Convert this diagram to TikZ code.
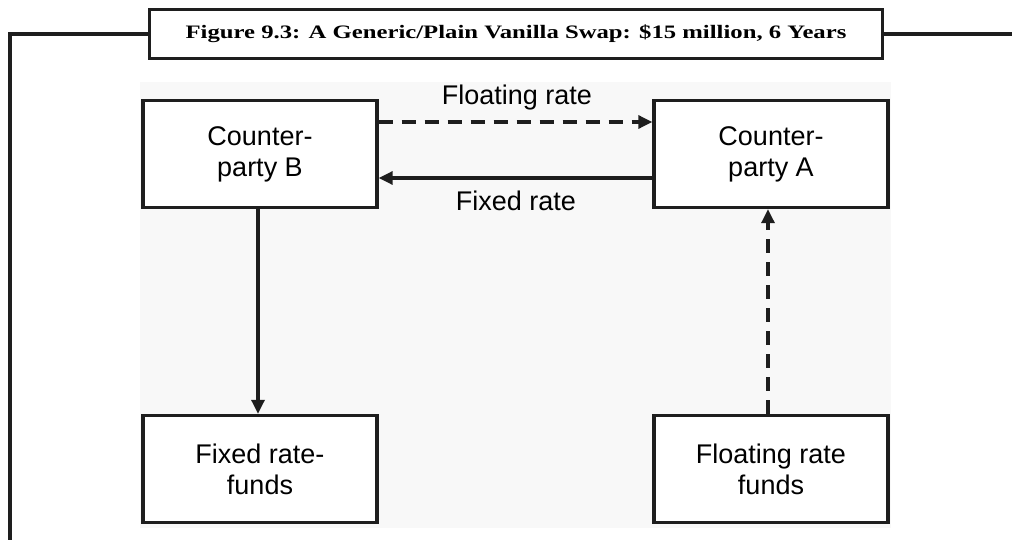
\documentclass[tikz,border=0pt]{standalone}
\usepackage{fontspec}
\setmainfont{Liberation Sans}
\newfontfamily\titlefont{Liberation Serif}
\usetikzlibrary{arrows.meta}
\definecolor{ink}{HTML}{1E1E1E}
\definecolor{panel}{HTML}{F8F8F8}
\tikzset{
  frame/.style={draw=ink, line width=3.2pt},
  box/.style={draw=ink, line width=3.4pt, fill=white, rectangle, inner sep=0pt,
    minimum width=234pt, minimum height=107pt, align=center,
    font=\fontsize{27}{31}\selectfont},
  flow/.style={draw=ink, line width=3.2pt, -{Triangle[length=14pt,width=13pt]}},
  dashflow/.style={flow, dash pattern=on 14pt off 9pt},
  lbl/.style={font=\fontsize{27}{31}\selectfont, inner sep=0pt, anchor=base},
  titlebox/.style={draw=ink, line width=3.2pt, fill=white, inner sep=0pt,
    minimum width=733pt, minimum height=49pt,
    font=\titlefont\bfseries\fontsize{19}{22}\selectfont}
}
\begin{document}
\begin{tikzpicture}[x=1pt,y=-1pt]
\useasboundingbox (0,0) rectangle (1012,540);
\fill[panel] (140,82) rectangle (891,528);
% title and frame
\node[titlebox] (title) at (516,34) {\scalebox{1.3}[1]{Figure 9.3: A Generic/Plain Vanilla Swap: \$15 million, 6 Years}};
\coordinate (tl) at (10,34);
\coordinate (bl) at (10,545);
\coordinate (tr) at (1015,34);
\draw[frame] (title.west) -- (tl) -- (bl);
\draw[frame] (title.east) -- (tr);
% boxes
\node[box] (cpB) at (260,154) {Counter-\\party B};
\node[box] (cpA) at (771,154) {Counter-\\party A};
\node[box] (fixF) at (260,469) {Fixed rate-\\funds};
\node[box] (floatF) at (771,469) {Floating rate\\funds};
% connectors
\draw[dashflow] ([yshift=32pt]cpB.east) -- ([yshift=32pt]cpA.west);
\draw[flow] ([yshift=-24pt]cpA.east -| cpA.west) -- ([yshift=-24pt]cpB.east);
\draw[flow] ([xshift=-2pt]cpB.south) -- ([xshift=-2pt]fixF.north);
\draw[dashflow] ([xshift=-3pt]floatF.north) -- ([xshift=-3pt]cpA.south);
% labels
\node[lbl] (lfloat) at (517,105) {Floating rate};
\node[lbl] (lfixed) at (516,211) {Fixed rate};
\end{tikzpicture}
\end{document}
